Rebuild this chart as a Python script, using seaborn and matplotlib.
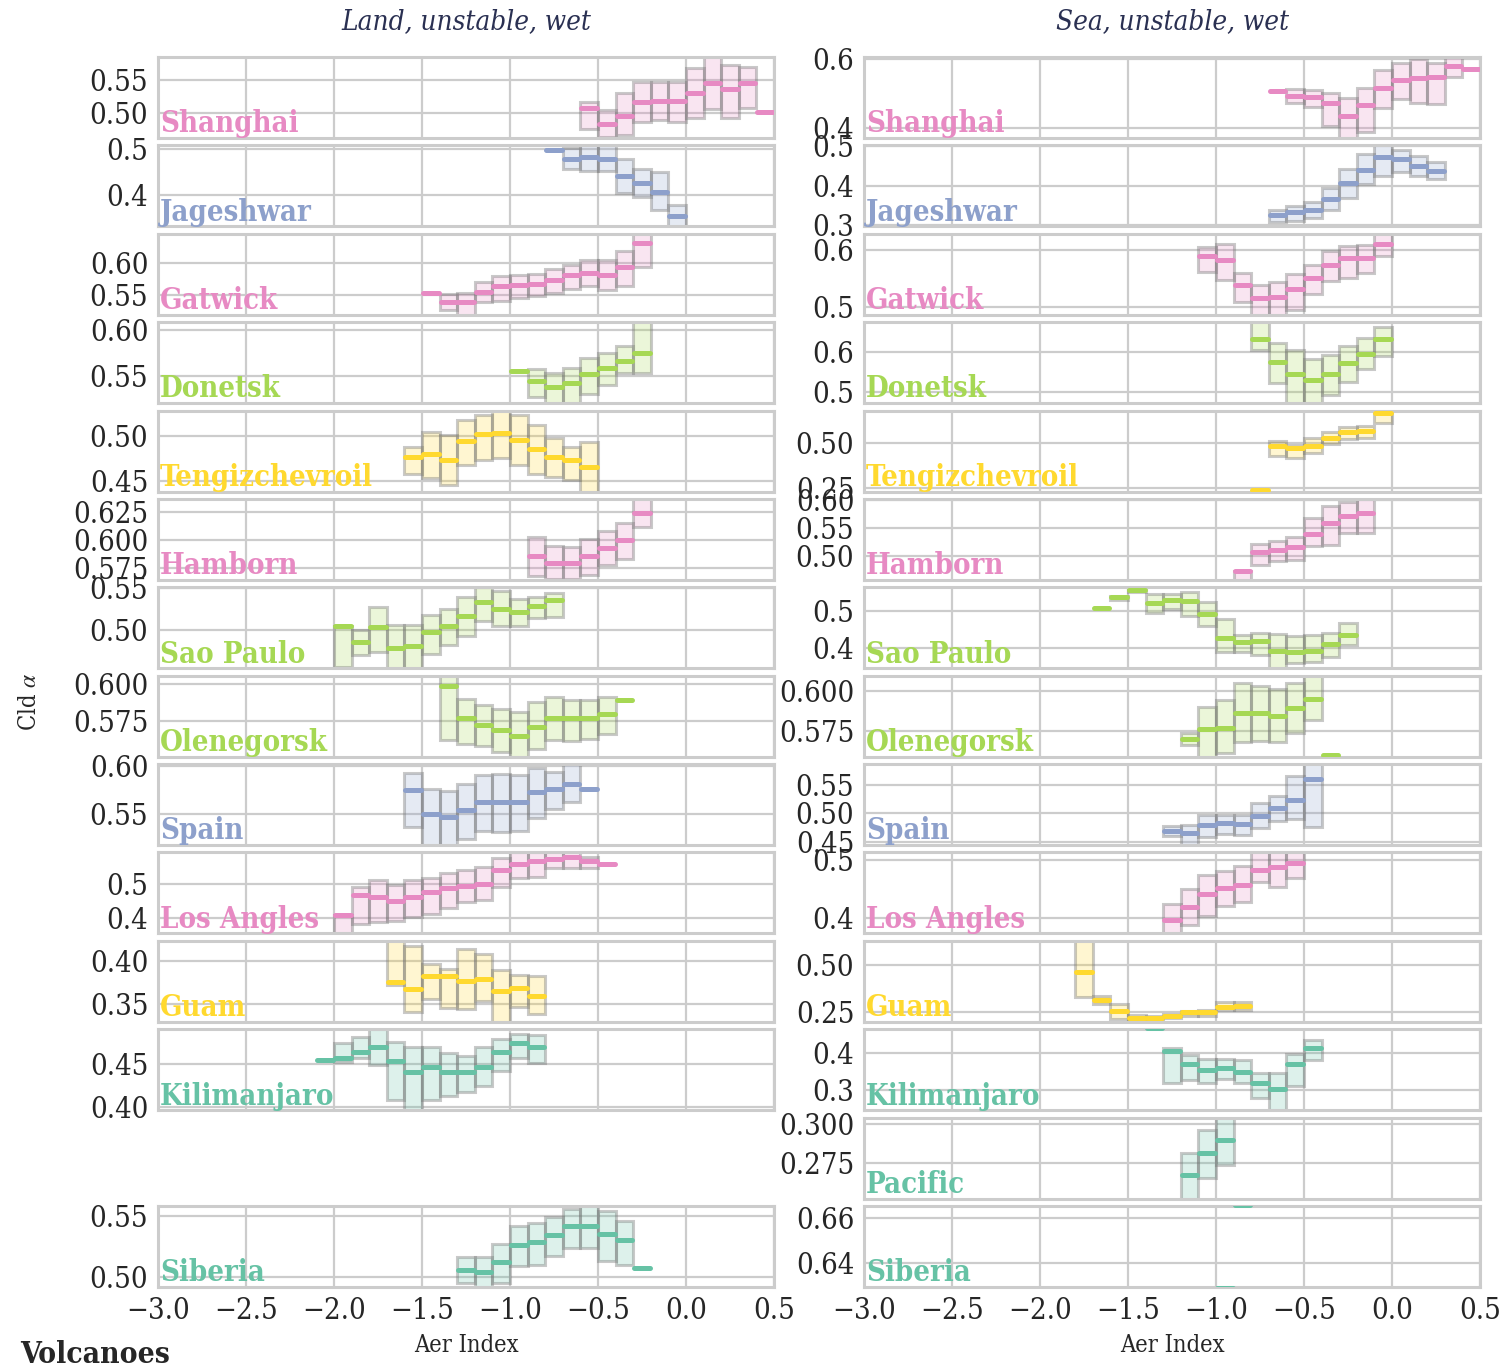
import numpy as np
import matplotlib
matplotlib.use("Agg")
import matplotlib.pyplot as plt
from matplotlib import font_manager as fm
import seaborn as sns
from matplotlib.colors import to_rgba

sns.set_theme(style="whitegrid")

# choose a condensed serif (like the reference); fall back to Liberation Serif
_cond = [f for f in fm.fontManager.ttflist
         if f.name.startswith('DejaVu Serif') and (f.stretch == 'condensed' or 'Condensed' in f.name
                                                   or 'Condensed' in f.fname)]
if _cond:
    FAM = [_cond[0].name, 'DejaVu Serif']
    plt.rcParams['font.stretch'] = 'condensed'
    SC = 1.0
else:
    FAM = ['Liberation Serif', 'DejaVu Serif']
    SC = 1.2
plt.rcParams['font.family'] = FAM
plt.rcParams['mathtext.fontset'] = 'stix'

pal = sns.color_palette("Set2")
TEAL, BLUE, PINK, LIME, YELLOW = pal[0], pal[2], pal[3], pal[4], pal[5]

# ---------------- data: (bin left edge, q1, median, q3) ----------------
land_shanghai = [(-0.6, 0.476, 0.508, 0.516), (-0.5, 0.463, 0.484, 0.504), (-0.4, 0.467, 0.496, 0.530),
                 (-0.3, 0.486, 0.517, 0.547), (-0.2, 0.489, 0.518, 0.547), (-0.1, 0.487, 0.518, 0.547),
                 (0.0, 0.493, 0.531, 0.568), (0.1, 0.506, 0.546, 0.590), (0.2, 0.493, 0.537, 0.573),
                 (0.3, 0.508, 0.546, 0.570), (0.4, None, 0.502, None)]
land_jageshwar = [(-0.8, None, 0.498, None), (-0.7, 0.456, 0.478, 0.503), (-0.6, 0.453, 0.484, 0.510),
                  (-0.5, 0.452, 0.479, 0.510), (-0.4, 0.405, 0.442, 0.479), (-0.3, 0.396, 0.426, 0.457),
                  (-0.2, 0.367, 0.407, 0.451), (-0.1, 0.325, 0.353, 0.379)]
land_gatwick = [(-1.5, None, 0.554, None), (-1.4, 0.527, 0.540, 0.552), (-1.3, 0.518, 0.539, 0.553),
                (-1.2, 0.539, 0.555, 0.571), (-1.1, 0.542, 0.564, 0.580), (-1.0, 0.546, 0.566, 0.581),
                (-0.9, 0.549, 0.567, 0.583), (-0.8, 0.554, 0.574, 0.590), (-0.7, 0.560, 0.581, 0.597),
                (-0.6, 0.565, 0.584, 0.604), (-0.5, 0.558, 0.581, 0.604), (-0.4, 0.564, 0.594, 0.619),
                (-0.3, 0.594, 0.631, 0.650)]
land_donetsk = [(-1.0, None, 0.556, None), (-0.9, 0.528, 0.545, 0.558), (-0.8, 0.519, 0.539, 0.554),
                (-0.7, 0.520, 0.543, 0.559), (-0.6, 0.531, 0.553, 0.570), (-0.5, 0.541, 0.559, 0.576),
                (-0.4, 0.554, 0.567, 0.583), (-0.3, 0.554, 0.575, 0.612)]
land_tengiz = [(-1.6, 0.457, 0.477, 0.488), (-1.5, 0.453, 0.480, 0.505), (-1.4, 0.445, 0.473, 0.501),
               (-1.3, 0.468, 0.494, 0.518), (-1.2, 0.473, 0.502, 0.524), (-1.1, 0.475, 0.504, 0.530),
               (-1.0, 0.468, 0.496, 0.524), (-0.9, 0.458, 0.486, 0.513), (-0.8, 0.454, 0.476, 0.498),
               (-0.7, 0.451, 0.473, 0.488), (-0.6, 0.435, 0.465, 0.493)]
land_hamborn = [(-0.9, 0.568, 0.586, 0.603), (-0.8, 0.565, 0.580, 0.595), (-0.7, 0.565, 0.580, 0.594),
                (-0.6, 0.569, 0.586, 0.601), (-0.5, 0.578, 0.593, 0.608), (-0.4, 0.583, 0.600, 0.615),
                (-0.3, 0.612, 0.624, 0.640)]
land_saopaulo = [(-2.0, 0.455, 0.504, 0.504), (-1.9, 0.469, 0.485, 0.500), (-1.8, 0.473, 0.503, 0.527),
                 (-1.7, 0.452, 0.478, 0.506), (-1.6, 0.452, 0.480, 0.506), (-1.5, 0.471, 0.497, 0.518),
                 (-1.4, 0.482, 0.504, 0.525), (-1.3, 0.492, 0.516, 0.539), (-1.2, 0.510, 0.534, 0.552),
                 (-1.1, 0.504, 0.525, 0.547), (-1.0, 0.504, 0.521, 0.537), (-0.9, 0.514, 0.529, 0.540),
                 (-0.8, 0.515, 0.536, 0.544)]
land_olenegorsk = [(-1.4, 0.562, 0.599, 0.610), (-1.3, 0.559, 0.577, 0.590), (-1.2, 0.558, 0.572, 0.586),
                   (-1.1, 0.554, 0.569, 0.583), (-1.0, 0.550, 0.565, 0.581), (-0.9, 0.556, 0.571, 0.588),
                   (-0.8, 0.562, 0.577, 0.591), (-0.7, 0.561, 0.577, 0.589), (-0.6, 0.563, 0.577, 0.589),
                   (-0.5, 0.566, 0.580, 0.591), (-0.4, None, 0.589, None)]
land_spain = [(-1.6, 0.537, 0.575, 0.593), (-1.5, 0.517, 0.550, 0.576), (-1.4, 0.517, 0.547, 0.574),
              (-1.3, 0.524, 0.554, 0.581), (-1.2, 0.532, 0.562, 0.590), (-1.1, 0.531, 0.562, 0.591),
              (-1.0, 0.532, 0.562, 0.590), (-0.9, 0.546, 0.573, 0.598), (-0.8, 0.555, 0.576, 0.594),
              (-0.7, 0.562, 0.581, 0.603), (-0.6, None, 0.576, None)]
land_losangeles = [(-2.0, 0.350, 0.410, 0.410), (-1.9, 0.385, 0.467, 0.490), (-1.8, 0.390, 0.462, 0.510),
                   (-1.7, 0.393, 0.450, 0.495), (-1.6, 0.405, 0.462, 0.510), (-1.5, 0.413, 0.475, 0.517),
                   (-1.4, 0.430, 0.487, 0.532), (-1.3, 0.448, 0.492, 0.538), (-1.2, 0.453, 0.500, 0.548),
                   (-1.1, 0.490, 0.540, 0.573), (-1.0, 0.517, 0.558, 0.590), (-0.9, 0.520, 0.565, 0.592),
                   (-0.8, 0.545, 0.570, 0.595), (-0.7, 0.545, 0.577, 0.595), (-0.6, 0.545, 0.565, 0.577),
                   (-0.5, None, 0.557, None)]
land_guam = [(-1.7, 0.372, 0.376, 0.430), (-1.6, 0.341, 0.367, 0.417), (-1.5, 0.356, 0.383, 0.396),
             (-1.4, 0.345, 0.383, 0.391), (-1.3, 0.344, 0.377, 0.414), (-1.2, 0.353, 0.379, 0.408),
             (-1.1, 0.325, 0.365, 0.389), (-1.0, 0.347, 0.369, 0.384), (-0.9, 0.338, 0.359, 0.382)]
land_kilimanjaro = [(-2.1, None, 0.455, None), (-2.0, 0.453, 0.457, 0.475), (-1.9, 0.457, 0.464, 0.482),
                    (-1.8, 0.449, 0.471, 0.492), (-1.7, 0.408, 0.454, 0.476), (-1.6, 0.394, 0.441, 0.470),
                    (-1.5, 0.408, 0.447, 0.470), (-1.4, 0.413, 0.441, 0.463), (-1.3, 0.417, 0.441, 0.460),
                    (-1.2, 0.425, 0.447, 0.470), (-1.1, 0.442, 0.464, 0.480), (-1.0, 0.458, 0.475, 0.486),
                    (-0.9, 0.452, 0.471, 0.484)]
land_pacific = []
land_siberia = [(-1.3, 0.495, 0.506, 0.516), (-1.2, 0.490, 0.504, 0.516), (-1.1, 0.495, 0.512, 0.527),
                (-1.0, 0.509, 0.526, 0.542), (-0.9, 0.510, 0.529, 0.544), (-0.8, 0.517, 0.534, 0.549),
                (-0.7, 0.524, 0.542, 0.556), (-0.6, 0.524, 0.542, 0.560), (-0.5, 0.513, 0.535, 0.554),
                (-0.4, 0.510, 0.530, 0.546), (-0.3, None, 0.507, None)]

sea_shanghai = [(-0.7, None, 0.507, None), (-0.6, 0.473, 0.494, 0.512), (-0.5, 0.462, 0.489, 0.510),
                (-0.4, 0.405, 0.473, 0.501), (-0.3, 0.365, 0.435, 0.486), (-0.2, 0.388, 0.466, 0.515),
                (-0.1, 0.459, 0.515, 0.567), (0.0, 0.483, 0.538, 0.590), (0.1, 0.473, 0.546, 0.600),
                (0.2, 0.469, 0.547, 0.590), (0.3, 0.547, 0.581, 0.610), (0.4, None, 0.571, None)]
sea_jageshwar = [(-0.7, 0.308, 0.325, 0.339), (-0.6, 0.310, 0.333, 0.349), (-0.5, 0.319, 0.340, 0.360),
                 (-0.4, 0.338, 0.366, 0.394), (-0.3, 0.370, 0.407, 0.443), (-0.2, 0.404, 0.441, 0.480),
                 (-0.1, 0.426, 0.473, 0.505), (0.0, 0.434, 0.467, 0.492), (0.1, 0.426, 0.451, 0.475),
                 (0.2, 0.417, 0.437, 0.460)]
sea_gatwick = [(-1.1, 0.561, 0.588, 0.604), (-1.0, 0.547, 0.582, 0.610), (-0.9, 0.508, 0.538, 0.559),
               (-0.8, 0.480, 0.516, 0.539), (-0.7, 0.480, 0.517, 0.544), (-0.6, 0.495, 0.532, 0.557),
               (-0.5, 0.522, 0.550, 0.574), (-0.4, 0.545, 0.574, 0.597), (-0.3, 0.551, 0.585, 0.606),
               (-0.2, 0.559, 0.585, 0.608), (-0.1, 0.588, 0.610, 0.632)]
sea_donetsk = [(-0.8, 0.607, 0.633, 0.690), (-0.7, 0.522, 0.576, 0.624), (-0.6, 0.465, 0.546, 0.607),
               (-0.5, 0.465, 0.529, 0.584), (-0.4, 0.491, 0.546, 0.593), (-0.3, 0.526, 0.574, 0.616),
               (-0.2, 0.557, 0.597, 0.637), (-0.1, 0.591, 0.633, 0.665)]
sea_tengiz = [(-0.8, None, 0.240, None), (-0.7, 0.426, 0.483, 0.510), (-0.6, 0.415, 0.472, 0.491),
              (-0.5, 0.445, 0.487, 0.528), (-0.4, 0.496, 0.528, 0.563), (-0.3, 0.521, 0.563, 0.591),
              (-0.2, 0.530, 0.566, 0.597), (-0.1, 0.610, 0.667, 0.690)]
sea_hamborn = [(-0.9, 0.450, 0.473, 0.473), (-0.8, 0.483, 0.506, 0.521), (-0.7, 0.491, 0.510, 0.526),
               (-0.6, 0.493, 0.515, 0.534), (-0.5, 0.518, 0.539, 0.568), (-0.4, 0.520, 0.559, 0.589),
               (-0.3, 0.540, 0.571, 0.597), (-0.2, 0.541, 0.576, 0.605)]
sea_saopaulo = [(-1.7, None, 0.507, None), (-1.6, 0.530, 0.537, 0.541), (-1.5, 0.552, 0.557, 0.566),
                (-1.4, 0.495, 0.523, 0.546), (-1.3, 0.505, 0.530, 0.546), (-1.2, 0.486, 0.528, 0.551),
                (-1.1, 0.460, 0.493, 0.525), (-1.0, 0.389, 0.426, 0.477), (-0.9, 0.389, 0.414, 0.435),
                (-0.8, 0.380, 0.419, 0.440), (-0.7, 0.340, 0.391, 0.437), (-0.6, 0.357, 0.387, 0.431),
                (-0.5, 0.361, 0.391, 0.435), (-0.4, 0.375, 0.409, 0.440), (-0.3, 0.407, 0.435, 0.468)]
sea_olenegorsk = [(-1.2, 0.566, 0.570, 0.574), (-1.1, 0.558, 0.576, 0.590), (-1.0, 0.561, 0.577, 0.594),
                  (-0.9, 0.568, 0.586, 0.605), (-0.8, 0.569, 0.586, 0.603), (-0.7, 0.568, 0.584, 0.601),
                  (-0.6, 0.574, 0.589, 0.605), (-0.5, 0.582, 0.595, 0.612), (-0.4, None, 0.560, None)]
sea_spain = [(-1.3, 0.460, 0.469, 0.477), (-1.2, 0.440, 0.466, 0.479), (-1.1, 0.459, 0.479, 0.498),
             (-1.0, 0.464, 0.483, 0.498), (-0.9, 0.462, 0.481, 0.498), (-0.8, 0.474, 0.496, 0.518),
             (-0.7, 0.486, 0.510, 0.531), (-0.6, 0.490, 0.524, 0.566), (-0.5, 0.476, 0.562, 0.595)]
sea_losangeles = [(-1.3, 0.370, 0.397, 0.424), (-1.2, 0.388, 0.419, 0.450), (-1.1, 0.404, 0.441, 0.474),
                  (-1.0, 0.421, 0.451, 0.481), (-0.9, 0.427, 0.457, 0.490), (-0.8, 0.462, 0.482, 0.515),
                  (-0.7, 0.453, 0.487, 0.520), (-0.6, 0.469, 0.494, 0.520)]
sea_guam = [(-1.8, 0.330, 0.459, 0.640), (-1.7, 0.295, 0.313, 0.334), (-1.6, 0.214, 0.255, 0.295),
            (-1.5, 0.190, 0.218, 0.238), (-1.4, 0.205, 0.220, 0.232), (-1.3, 0.220, 0.232, 0.241),
            (-1.2, 0.232, 0.250, 0.259), (-1.1, 0.232, 0.254, 0.264), (-1.0, 0.263, 0.277, 0.304),
            (-0.9, 0.263, 0.282, 0.304)]
sea_kilimanjaro = [(-1.4, None, 0.464, None), (-1.3, 0.320, 0.404, 0.413), (-1.2, 0.327, 0.369, 0.393),
                   (-1.1, 0.320, 0.354, 0.382), (-1.0, 0.331, 0.360, 0.384), (-0.9, 0.319, 0.350, 0.381),
                   (-0.8, 0.281, 0.320, 0.347), (-0.7, 0.245, 0.304, 0.347), (-0.6, 0.313, 0.369, 0.396),
                   (-0.5, 0.381, 0.413, 0.434)]
sea_pacific = [(-1.2, 0.250, 0.2676, 0.2817), (-1.1, 0.2652, 0.2815, 0.2963), (-1.0, 0.2735, 0.2898, 0.306)]
sea_siberia = [(-1.0, None, 0.6291, None), (-0.9, None, 0.6656, None)]

site_names = ["Shanghai", "Jageshwar", "Gatwick", "Donetsk", "Tengizchevroil", "Hamborn", "Sao Paulo",
              "Olenegorsk", "Spain", "Los Angles", "Guam", "Kilimanjaro", "Pacific", "Siberia"]
site_colors = [PINK, BLUE, PINK, LIME, YELLOW, PINK, LIME, LIME, BLUE, PINK, YELLOW, TEAL, TEAL, TEAL]

land_data = [land_shanghai, land_jageshwar, land_gatwick, land_donetsk, land_tengiz, land_hamborn,
             land_saopaulo, land_olenegorsk, land_spain, land_losangeles, land_guam, land_kilimanjaro,
             land_pacific, land_siberia]
sea_data = [sea_shanghai, sea_jageshwar, sea_gatwick, sea_donetsk, sea_tengiz, sea_hamborn,
            sea_saopaulo, sea_olenegorsk, sea_spain, sea_losangeles, sea_guam, sea_kilimanjaro,
            sea_pacific, sea_siberia]

land_yticks = [["0.50", "0.55"], ["0.4", "0.5"], ["0.55", "0.60"], ["0.55", "0.60"], ["0.45", "0.50"],
               ["0.575", "0.600", "0.625"], ["0.50", "0.55"], ["0.575", "0.600"], ["0.55", "0.60"],
               ["0.4", "0.5"], ["0.35", "0.40"], ["0.40", "0.45"], [], ["0.50", "0.55"]]
sea_yticks = [["0.4", "0.6"], ["0.3", "0.4", "0.5"], ["0.5", "0.6"], ["0.5", "0.6"], ["0.25", "0.50"],
              ["0.50", "0.55", "0.60"], ["0.4", "0.5"], ["0.575", "0.600"], ["0.45", "0.50", "0.55"],
              ["0.4", "0.5"], ["0.25", "0.50"], ["0.3", "0.4"], ["0.275", "0.300"], ["0.64", "0.66"]]

land_ylim = [(0.462, 0.585), (0.331, 0.509), (0.520, 0.645), (0.521, 0.609), (0.4378, 0.5287),
             (0.5645, 0.637), (0.4533, 0.5512), (0.5507, 0.6057), (0.5178, 0.6018), (0.357, 0.590),
             (0.3293, 0.4233), (0.396, 0.4914), None, (0.4917, 0.5583)]
sea_ylim = [(0.371, 0.606), (0.2974, 0.5026), (0.4865, 0.6276), (0.4713, 0.6765), (0.231, 0.682),
            (0.4567, 0.6018), (0.3435, 0.5648), (0.559, 0.6094), (0.444, 0.5877), (0.3735, 0.5129),
            (0.200, 0.625), (0.2478, 0.462), (0.2522, 0.3043), (0.6294, 0.6653)]

x_ticks = ["\u22123.0", "\u22122.5", "\u22122.0", "\u22121.5", "\u22121.0", "\u22120.5", "0.0", "0.5"]

# ---------------- layout ----------------
W, H = 1501, 1368
fig = plt.figure(figsize=(W / 100, H / 100), dpi=100)
col_left = [158, 864]
ax_w = 616
ax_h = 81
row_step = 88.38
GRID = '#cccccc'
TXT = '#262626'
BIN = 0.1
FS_TICK = 21 * SC
FS_LAB = 21 * SC


def draw_panel(ax, data, color, name, ylim, yticks, bottom):
    for (x0, q1, med, q3) in data:
        if q1 is not None:
            ax.bar(x0, q3 - q1, bottom=q1, width=BIN, align='edge',
                   facecolor=to_rgba(color, 0.22), edgecolor=(0.45, 0.45, 0.45, 0.38),
                   linewidth=2.2, zorder=2)
    for (x0, q1, med, q3) in data:
        ax.plot([x0 + 0.006, x0 + BIN - 0.006], [med, med], color=color, lw=3.6,
                solid_capstyle='round', zorder=3)
    ax.set_xlim(-3.0, 0.5)
    ax.set_ylim(*ylim)
    ax.set_yticks([float(t) for t in yticks])
    ax.set_yticklabels(yticks)
    ax.set_xticks([float(t.replace("\u2212", "-")) for t in x_ticks])
    if bottom:
        ax.set_xticklabels(x_ticks)
        ax.set_xlabel("Aer Index", fontsize=17 * SC, color=TXT, labelpad=7)
    else:
        ax.set_xticklabels([])
    ax.tick_params(axis='both', length=0, labelsize=FS_TICK, colors=TXT)
    ax.tick_params(axis='y', pad=7)
    ax.tick_params(axis='x', pad=7)
    ax.grid(True, color=GRID, lw=1.6)
    for s in ax.spines.values():
        s.set_color(GRID)
        s.set_linewidth(2.2)
    ax.set_facecolor('white')
    ax.text(0.003, 0.07, name, transform=ax.transAxes, color=color, fontsize=FS_LAB,
            fontweight='bold', ha='left', va='baseline', zorder=5)


for c, (dsets, yts, ylims, title) in enumerate([
        (land_data, land_yticks, land_ylim, "Land, unstable, wet"),
        (sea_data, sea_yticks, sea_ylim, "Sea, unstable, wet")]):
    for r in range(14):
        top = 57 + r * row_step
        rect = [col_left[c] / W, 1 - (top + ax_h) / H, ax_w / W, ax_h / H]
        if ylims[r] is None:
            continue
        ax = fig.add_axes(rect)
        draw_panel(ax, dsets[r], site_colors[r], site_names[r], ylims[r], yts[r], r == 13)
        if r == 0:
            ax.set_title(title, fontsize=20 * SC, style='italic', color='#2a3052', pad=20)

fig.text(30 / W, 1 - 702 / H, r"Cld $\alpha$", rotation=90, fontsize=17 * SC, color=TXT,
         ha='center', va='center')
fig.text(20 / W, 5 / H, "Volcanoes", fontsize=21.5 * SC, fontweight='bold', color=TXT,
         ha='left', va='baseline')

fig.savefig("out.png", dpi=100)
